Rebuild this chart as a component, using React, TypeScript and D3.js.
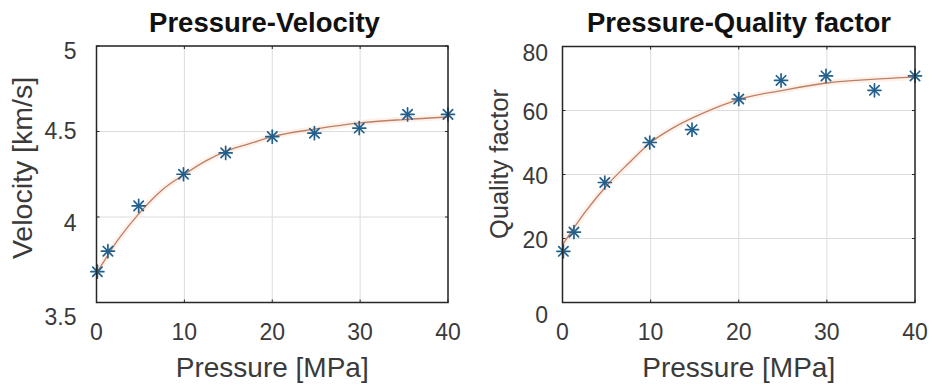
import React from "react";
import * as d3 from "d3";

// ---- data ----
const pressure = [0.1, 1.3, 4.8, 9.9, 14.7, 20, 24.8, 29.9, 35.4, 40];
const velocity = [3.68, 3.8, 4.065, 4.25, 4.375, 4.47, 4.49, 4.52, 4.6, 4.6];
const quality = [16, 22, 37.5, 50, 54, 63.6, 69.4, 70.8, 66.3, 70.8];

const fitPressure = [0, 2.5, 5, 7.5, 10, 12.5, 15, 17.5, 20, 25, 30, 35, 40];
const fitVelocity = [3.67, 3.87, 4.03, 4.16, 4.25, 4.33, 4.39, 4.43, 4.47, 4.515, 4.55, 4.57, 4.585];
const fitQuality = [18, 28, 36.5, 43.5, 50, 54.5, 58, 61, 63.5, 66.3, 68.6, 69.7, 70.4];

const xTicks = [0, 10, 20, 30, 40];
const velocityTicks = [3.5, 4, 4.5, 5];
const velocityTickLabels = ["3.5", "4", "4.5", "5"];
const qualityTicks = [0, 20, 40, 60, 80];
const qualityTickLabels = ["0", "20", "40", "60", "80"];

const FONT = "'Liberation Sans', Arial, Helvetica, sans-serif";
const MARK = "#215f8c";
const FIT = "#bd7f66";

type PanelProps = {
  left: number; right: number; top: number; bottom: number;
  yDomain: [number, number];
  yTicks: number[]; yTickLabels: string[];
  ys: number[]; fitYs: number[];
  title: string; titleX: number;
  yLabel: string; yLabelX: number; yLabelY: number; yLabelSize: number;
  yTickGap: number; yTickShift: number[];
};

function Star({ x, y }: { x: number; y: number }) {
  const r = 6.5;
  const d = r * 0.72;
  return (
    <g stroke={MARK} strokeWidth={1.7} strokeLinecap="round">
      <line x1={x - r} y1={y} x2={x + r} y2={y} />
      <line x1={x} y1={y - r} x2={x} y2={y + r} />
      <line x1={x - d} y1={y - d} x2={x + d} y2={y + d} />
      <line x1={x - d} y1={y + d} x2={x + d} y2={y - d} />
    </g>
  );
}

function Panel(p: PanelProps) {
  const x = d3.scaleLinear().domain([0, 40]).range([p.left, p.right]);
  const y = d3.scaleLinear().domain(p.yDomain).range([p.bottom, p.top]);
  const line = d3
    .line<number>()
    .x((_, i) => x(fitPressure[i]))
    .y((v) => y(v))
    .curve(d3.curveMonotoneX);
  const fitPath = line(p.fitYs) || "";
  return (
    <g>
      {xTicks.map((t) => (
        <line key={"gx" + t} x1={x(t)} x2={x(t)} y1={p.top} y2={p.bottom} stroke="#dcdcdc" strokeWidth={1} />
      ))}
      {p.yTicks.map((t) => (
        <line key={"gy" + t} x1={p.left} x2={p.right} y1={y(t)} y2={y(t)} stroke="#dcdcdc" strokeWidth={1} />
      ))}
      <path d={fitPath} fill="none" stroke="#fcebe0" strokeWidth={6} opacity={0.7} />
      <path d={fitPath} fill="none" stroke={FIT} strokeWidth={1.3} />
      {pressure.map((px, i) => (
        <Star key={"m" + i} x={x(px)} y={y(p.ys[i])} />
      ))}
      <rect x={p.left} y={p.top} width={p.right - p.left} height={p.bottom - p.top} fill="none" stroke="#262626" strokeWidth={1.5} />
      {xTicks.map((t) => (
        <g key={"xt" + t}>
          <line x1={x(t)} x2={x(t)} y1={p.bottom} y2={p.bottom - 3} stroke="#262626" />
          <line x1={x(t)} x2={x(t)} y1={p.top} y2={p.top + 3} stroke="#262626" />
          <text x={x(t)} y={339.5} textAnchor="middle" fontSize={23} fill="#3a3a3a" fontFamily={FONT}>
            {t}
          </text>
        </g>
      ))}
      {p.yTicks.map((t, i) => (
        <g key={"yt" + t}>
          <line x1={p.left} x2={p.left + 3} y1={y(t)} y2={y(t)} stroke="#262626" />
          <line x1={p.right} x2={p.right - 3} y1={y(t)} y2={y(t)} stroke="#262626" />
          <text
            x={p.left - p.yTickGap}
            y={y(t) + p.yTickShift[i]}
            dy="0.35em"
            textAnchor="end"
            fontSize={23}
            fill="#3a3a3a"
            fontFamily={FONT}
          >
            {p.yTickLabels[i]}
          </text>
        </g>
      ))}
      <text x={p.titleX} y={31.5} textAnchor="middle" fontSize={27.5} fontWeight="bold" fill="#111" fontFamily={FONT}>
        {p.title}
      </text>
      <text x={(p.left + p.right) / 2} y={377} textAnchor="middle" fontSize={28} fill="#3a3a3a" fontFamily={FONT}>
        Pressure [MPa]
      </text>
      <text
        transform={`translate(${p.yLabelX},${p.yLabelY}) rotate(-90)`}
        textAnchor="middle"
        fontSize={p.yLabelSize}
        fill="#3a3a3a"
        fontFamily={FONT}
      >
        {p.yLabel}
      </text>
    </g>
  );
}

export default function App() {
  return (
    <svg
      width={932}
      height={385}
      viewBox="0 0 932 385"
      style={{ position: "absolute", left: 0, top: 0, display: "block", background: "#fff" }}
    >
      <rect x={0} y={0} width={932} height={385} fill="#fff" />
      <Panel
        left={96.5}
        right={448}
        top={46}
        bottom={302.5}
        yDomain={[3.5, 5]}
        yTicks={velocityTicks}
        yTickLabels={velocityTickLabels}
        ys={velocity}
        fitYs={fitVelocity}
        title="Pressure-Velocity"
        titleX={264.5}
        yLabel="Velocity [km/s]"
        yLabelX={32}
        yLabelY={168}
        yLabelSize={28.5}
        yTickGap={20}
        yTickShift={[14, 6, -1, 5]}
      />
      <Panel
        left={562.5}
        right={915}
        top={46.5}
        bottom={302.5}
        yDomain={[0, 80]}
        yTicks={qualityTicks}
        yTickLabels={qualityTickLabels}
        ys={quality}
        fitYs={fitQuality}
        title="Pressure-Quality factor"
        titleX={739}
        yLabel="Quality factor"
        yLabelX={508}
        yLabelY={164}
        yLabelSize={25.5}
        yTickGap={14.5}
        yTickShift={[12, 1, 1, 1, 6]}
      />
    </svg>
  );
}
